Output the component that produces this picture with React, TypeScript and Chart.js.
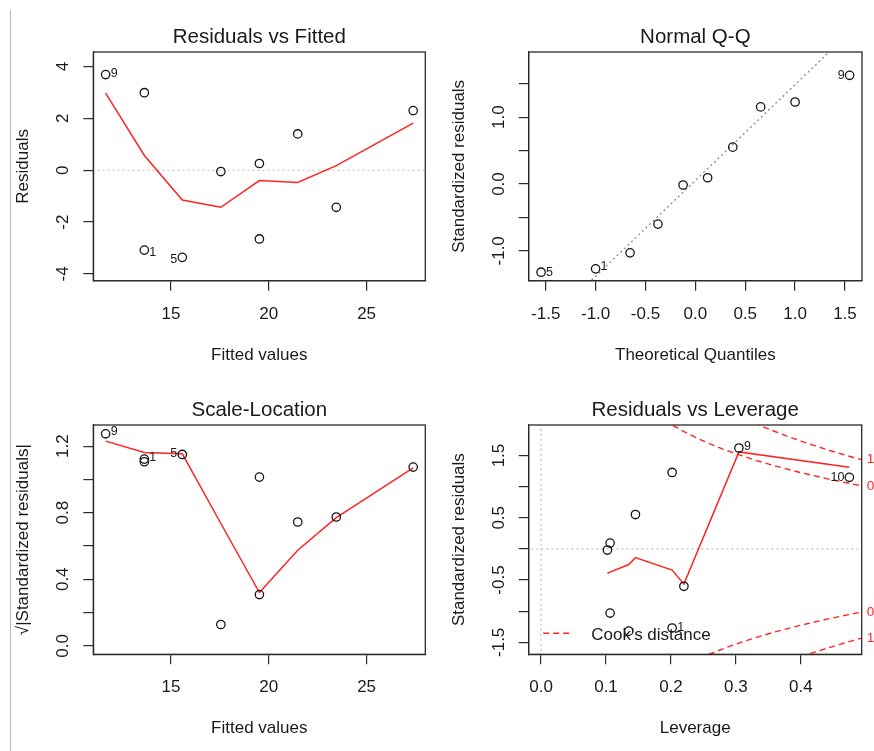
import React, { useEffect, useRef } from 'react';
import { Chart, registerables } from 'chart.js';

Chart.register(...registerables);

// ---------------- data ----------------
// observations (same order in every panel)
const fittedValues = [11.66, 13.64, 13.64, 15.58, 17.55, 19.52, 19.52, 21.48, 23.45, 27.38];
const residuals = [3.69, 2.99, -3.08, -3.36, -0.05, 0.26, -2.65, 1.4, -1.43, 2.3];
const sqrtAbsStdResiduals = [1.274, 1.106, 1.122, 1.15, 0.128, 0.308, 1.014, 0.744, 0.774, 1.074];
const leverage = [0.3046, 0.2018, 0.2018, 0.135, 0.1022, 0.1063, 0.1063, 0.1453, 0.2199, 0.4746];
const stdResiduals = [1.62, 1.228, -1.27, -1.32, -0.018, 0.094, -1.03, 0.552, -0.6, 1.15];

// Normal Q-Q
const theoreticalQuantiles = [-1.547, -1.0, -0.655, -0.375, -0.123, 0.123, 0.375, 0.655, 1.0, 1.547];
const sortedStdResiduals = [-1.32, -1.27, -1.03, -0.6, -0.015, 0.094, 0.552, 1.154, 1.228, 1.627];
const qqLineX = [-1.8, 1.8];
const qqLineY = [-2.528, 2.634];

// smoothers (red lines)
const smoothFitted = [11.66, 13.64, 15.58, 17.55, 19.52, 21.48, 23.45, 27.38];
const smoothResiduals = [2.97, 0.57, -1.15, -1.43, -0.4, -0.47, 0.18, 1.82];
const smoothScaleLocation = [1.23, 1.162, 1.154, 0.735, 0.32, 0.574, 0.77, 1.07];
const smoothLeverageX = [0.1022, 0.1063, 0.135, 0.1453, 0.2018, 0.2199, 0.3046, 0.4746];
const smoothLeverageY = [-0.39, -0.372, -0.25, -0.14, -0.34, -0.565, 1.558, 1.31];

// reference lines
const zeroLineX = [0, 40];
const zeroLineY = [0, 0];
const levZeroHX = [-1, 1];
const levZeroHY = [0, 0];
const levZeroVX = [0, 0];
const levZeroVY = [-3, 3];

// Cook's distance contours (0.5 and 1)
const cookHalfH = [0.19, 0.2, 0.22, 0.24, 0.26, 0.28, 0.3, 0.33, 0.36, 0.4, 0.44, 0.48, 0.5];
const cookHalfUpper = [2.065, 2.0, 1.883, 1.78, 1.687, 1.604, 1.528, 1.425, 1.333, 1.225, 1.128, 1.041, 1.0];
const cookHalfLower = [-2.065, -2.0, -1.883, -1.78, -1.687, -1.604, -1.528, -1.425, -1.333, -1.225, -1.128, -1.041, -1.0];
const cookOneH = [0.3, 0.33, 0.34, 0.36, 0.38, 0.4, 0.42, 0.44, 0.46, 0.48, 0.5];
const cookOneUpper = [2.16, 2.015, 1.97, 1.886, 1.806, 1.732, 1.662, 1.595, 1.532, 1.472, 1.414];
const cookOneLower = [-2.16, -2.015, -1.97, -1.886, -1.806, -1.732, -1.662, -1.595, -1.532, -1.472, -1.414];
const cookLabelValues = [1.433, 1.013, -1.013, -1.433];
const cookLabelTexts = ['1', '0.5', '0.5', '1'];

// ticks
const fittedTicks = [15, 20, 25];
const fittedTickLabels = ['15', '20', '25'];
const residTicks = [-4, -2, 0, 2, 4];
const residTickLabels = ['-4', '-2', '0', '2', '4'];
const qqXTicks = [-1.5, -1.0, -0.5, 0, 0.5, 1.0, 1.5];
const qqXTickLabels = ['-1.5', '-1.0', '-0.5', '0.0', '0.5', '1.0', '1.5'];
const qqYTicks = [-1.0, -0.5, 0, 0.5, 1.0, 1.5];
const qqYTickLabels = ['-1.0', '', '0.0', '', '1.0', ''];
const slYTicks = [0, 0.2, 0.4, 0.6, 0.8, 1.0, 1.2];
const slYTickLabels = ['0.0', '', '0.4', '', '0.8', '', '1.2'];
const levXTicks = [0, 0.1, 0.2, 0.3, 0.4];
const levXTickLabels = ['0.0', '0.1', '0.2', '0.3', '0.4'];
const levYTicks = [-1.5, -1.0, -0.5, 0, 0.5, 1.0, 1.5];
const levYTickLabels = ['-1.5', '', '-0.5', '', '0.5', '', '1.5'];

// point id labels: index into observations, text, side
const rvfLabelIdx = [0, 2, 3];
const rvfLabelText = ['9', '1', '5'];
const rvfLabelSide = ['right', 'right', 'left'];
const qqLabelIdx = [0, 1, 9];
const qqLabelText = ['5', '1', '9'];
const qqLabelSide = ['right', 'right', 'left'];
const slLabelIdx = [0, 2, 3];
const slLabelText = ['9', '1', '5'];
const slLabelSide = ['right', 'right', 'left'];
const levLabelIdx = [0, 9, 2];
const levLabelText = ['9', '10', '1'];
const levLabelSide = ['right', 'left', 'right'];

// ---------------- styling ----------------
const FONT = '"Liberation Sans", Arial, Helvetica, sans-serif';
const TEXT = '#1a1a1a';
const AXIS = '#2b2b2b';
const RED = '#ff2424';

const pts = (xs: number[], ys: number[]) => xs.map((x, i) => ({ x, y: ys[i] }));

const pointSet = (xs: number[], ys: number[]) => ({
  data: pts(xs, ys),
  showLine: false,
  pointRadius: 4.2,
  pointBorderWidth: 1.3,
  pointBackgroundColor: 'rgba(0,0,0,0)',
  pointBorderColor: '#151515',
  order: 0,
});

const lineSet = (xs: number[], ys: number[], color: string, width: number, dash: number[], order: number) => ({
  data: pts(xs, ys),
  showLine: true,
  pointRadius: 0,
  borderColor: color,
  borderWidth: width,
  borderDash: dash,
  fill: false,
  tension: 0,
  order,
});

type Label = { x: number; y: number; text: string; side: string; dy: number };

type Spec = {
  title: string;
  xTitle: string;
  yTitle: string;
  xMin: number; xMax: number; yMin: number; yMax: number;
  xTicks: number[]; xTickLabels: string[];
  yTicks: number[]; yTickLabels: string[];
  datasets: any[];
  labels: Label[];
  padding: { left: number; top: number; right: number; bottom: number };
  extra?: (chart: any, ctx: CanvasRenderingContext2D) => void;
};

const mkLabels = (idx: number[], text: string[], side: string[], xs: number[], ys: number[], dys: number[]): Label[] =>
  idx.map((k, i) => ({ x: xs[k], y: ys[k], text: text[i], side: side[i], dy: dys[i] }));

function makeOverlay(spec: Spec) {
  return {
    id: 'rOverlay',
    afterDraw(chart: any) {
      const ctx: CanvasRenderingContext2D = chart.ctx;
      const a = chart.chartArea;
      const xs = chart.scales.x;
      const ys = chart.scales.y;
      const cx = (a.left + a.right) / 2;
      ctx.save();
      // box
      ctx.strokeStyle = AXIS;
      ctx.lineWidth = 1.3;
      ctx.setLineDash([]);
      ctx.strokeRect(a.left, a.top, a.right - a.left, a.bottom - a.top);

      ctx.fillStyle = TEXT;
      ctx.textBaseline = 'alphabetic';
      ctx.textAlign = 'center';
      // x tick labels
      ctx.font = `17px ${FONT}`;
      spec.xTicks.forEach((v, i) => {
        ctx.fillText(spec.xTickLabels[i], xs.getPixelForValue(v), a.bottom + 38);
      });
      // y tick labels (rotated, like R)
      spec.yTicks.forEach((v, i) => {
        const t = spec.yTickLabels[i];
        if (!t) return;
        ctx.save();
        ctx.translate(a.left - 25, ys.getPixelForValue(v));
        ctx.rotate(-Math.PI / 2);
        ctx.fillText(t, 0, 0);
        ctx.restore();
      });
      // x title
      ctx.fillText(spec.xTitle, cx, a.bottom + 79);
      // y title
      ctx.save();
      ctx.translate(a.left - 65, (a.top + a.bottom) / 2);
      ctx.rotate(-Math.PI / 2);
      ctx.fillText(spec.yTitle, 0, 0);
      ctx.restore();
      // main title
      ctx.font = `20.5px ${FONT}`;
      ctx.fillText(spec.title, cx, a.top - 9.5);

      // id labels
      ctx.font = `12.5px ${FONT}`;
      ctx.textBaseline = 'middle';
      spec.labels.forEach((l) => {
        const px = xs.getPixelForValue(l.x);
        const py = ys.getPixelForValue(l.y) + l.dy;
        if (l.side === 'right') {
          ctx.textAlign = 'left';
          ctx.fillText(l.text, px + 5, py);
        } else {
          ctx.textAlign = 'right';
          ctx.fillText(l.text, px - 5, py);
        }
      });
      if (spec.extra) spec.extra(chart, ctx);
      ctx.restore();
    },
  };
}

function buildConfig(spec: Spec): any {
  const axisCommon = {
    type: 'linear',
    ticks: { display: false },
    grid: { display: true, drawOnChartArea: false, drawTicks: true, tickLength: 10, color: AXIS, lineWidth: 1.2 },
    border: { display: true, color: AXIS, width: 1.2 },
  };
  return {
    type: 'scatter',
    data: { datasets: spec.datasets },
    options: {
      animation: false,
      responsive: false,
      events: [],
      layout: { padding: spec.padding },
      plugins: { legend: { display: false }, tooltip: { enabled: false }, title: { display: false } },
      scales: {
        x: {
          ...axisCommon,
          min: spec.xMin,
          max: spec.xMax,
          afterBuildTicks: (s: any) => { s.ticks = spec.xTicks.map((v) => ({ value: v })); },
          afterFit: (s: any) => { s.height = 0; },
        },
        y: {
          ...axisCommon,
          min: spec.yMin,
          max: spec.yMax,
          afterBuildTicks: (s: any) => { s.ticks = spec.yTicks.map((v) => ({ value: v })); },
          afterFit: (s: any) => { s.width = 0; },
        },
      },
    },
    plugins: [makeOverlay(spec)],
  };
}

// ---------------- panels ----------------
const topPad = { top: 52, bottom: 95.3 };
const botPad = { top: 49, bottom: 96.7 };

const specRvF: Spec = {
  title: 'Residuals vs Fitted',
  xTitle: 'Fitted values',
  yTitle: 'Residuals',
  xMin: 11.03, xMax: 28.0, yMin: -4.26, yMax: 4.56,
  xTicks: fittedTicks, xTickLabels: fittedTickLabels,
  yTicks: residTicks, yTickLabels: residTickLabels,
  datasets: [
    pointSet(fittedValues, residuals),
    lineSet(smoothFitted, smoothResiduals, RED, 1.5, [], 1),
    lineSet(zeroLineX, zeroLineY, '#bdbdbd', 1.2, [2, 3], 2),
  ],
  labels: mkLabels(rvfLabelIdx, rvfLabelText, rvfLabelSide, fittedValues, residuals, [-1, 2, 2]),
  padding: { left: 93.3, right: 11.7, ...topPad },
};

const specQQ: Spec = {
  title: 'Normal Q-Q',
  xTitle: 'Theoretical Quantiles',
  yTitle: 'Standardized residuals',
  xMin: -1.671, xMax: 1.671, yMin: -1.447, yMax: 1.976,
  xTicks: qqXTicks, xTickLabels: qqXTickLabels,
  yTicks: qqYTicks, yTickLabels: qqYTickLabels,
  datasets: [
    pointSet(theoreticalQuantiles, sortedStdResiduals),
    lineSet(qqLineX, qqLineY, '#8a8a8a', 1.3, [2, 3], 1),
  ],
  labels: mkLabels(qqLabelIdx, qqLabelText, qqLabelSide, theoreticalQuantiles, sortedStdResiduals, [0, -2, 0]),
  padding: { left: 91.7, right: 12, ...topPad },
};

const specSL: Spec = {
  title: 'Scale-Location',
  xTitle: 'Fitted values',
  yTitle: '\u221A|Standardized residuals|',
  xMin: 11.03, xMax: 28.0, yMin: -0.051, yMax: 1.327,
  xTicks: fittedTicks, xTickLabels: fittedTickLabels,
  yTicks: slYTicks, yTickLabels: slYTickLabels,
  datasets: [
    pointSet(fittedValues, sqrtAbsStdResiduals),
    lineSet(smoothFitted, smoothScaleLocation, RED, 1.5, [], 1),
  ],
  labels: mkLabels(slLabelIdx, slLabelText, slLabelSide, fittedValues, sqrtAbsStdResiduals, [-2, -2, -1]),
  padding: { left: 93.3, right: 11.7, ...botPad },
};

const specLev: Spec = {
  title: 'Residuals vs Leverage',
  xTitle: 'Leverage',
  yTitle: 'Standardized residuals',
  xMin: -0.019, xMax: 0.4936, yMin: -1.692, yMax: 1.99,
  xTicks: levXTicks, xTickLabels: levXTickLabels,
  yTicks: levYTicks, yTickLabels: levYTickLabels,
  datasets: [
    pointSet(leverage, stdResiduals),
    lineSet(smoothLeverageX, smoothLeverageY, RED, 1.5, [], 1),
    lineSet(levZeroHX, levZeroHY, '#bdbdbd', 1.2, [2, 3], 2),
    lineSet(levZeroVX, levZeroVY, '#bdbdbd', 1.2, [2, 3], 2),
    lineSet(cookHalfH, cookHalfUpper, RED, 1.4, [6, 4], 3),
    lineSet(cookHalfH, cookHalfLower, RED, 1.4, [6, 4], 3),
    lineSet(cookOneH, cookOneUpper, RED, 1.4, [6, 4], 3),
    lineSet(cookOneH, cookOneLower, RED, 1.4, [6, 4], 3),
  ],
  labels: mkLabels(levLabelIdx, levLabelText, levLabelSide, leverage, stdResiduals, [-1, 0, 0]),
  padding: { left: 91.7, right: 12.3, ...botPad },
  extra: (chart, ctx) => {
    const a = chart.chartArea;
    const ys = chart.scales.y;
    // Cook's level labels on the right margin
    ctx.fillStyle = RED;
    ctx.font = `13.5px ${FONT}`;
    ctx.textAlign = 'left';
    ctx.textBaseline = 'middle';
    cookLabelValues.forEach((v, i) => {
      ctx.fillText(cookLabelTexts[i], a.right + 5, ys.getPixelForValue(v));
    });
    // legend
    ctx.strokeStyle = RED;
    ctx.lineWidth = 1.4;
    ctx.setLineDash([6, 4]);
    ctx.beginPath();
    ctx.moveTo(a.left + 14.5, a.bottom - 21);
    ctx.lineTo(a.left + 42, a.bottom - 21);
    ctx.stroke();
    ctx.setLineDash([]);
    ctx.fillStyle = TEXT;
    ctx.font = `17px ${FONT}`;
    ctx.textBaseline = 'alphabetic';
    ctx.fillText("Cook's distance", a.left + 62.5, a.bottom - 14.3);
  },
};

function Panel({ spec, left, top, width, height }: { spec: Spec; left: number; top: number; width: number; height: number }) {
  const ref = useRef<HTMLCanvasElement>(null);
  useEffect(() => {
    if (!ref.current) return;
    const chart = new Chart(ref.current, buildConfig(spec));
    return () => chart.destroy();
  }, [spec]);
  return (
    <canvas
      ref={ref}
      width={width}
      height={height}
      style={{ position: 'absolute', left, top, width, height, display: 'block' }}
    />
  );
}

export default function App() {
  return (
    <div
      style={{
        position: 'absolute',
        left: 0,
        top: 0,
        width: 874,
        height: 751,
        overflow: 'hidden',
        background: '#ffffff',
      }}
    >
      <div style={{ position: 'absolute', left: 10, top: 10, width: 1, height: 741, background: '#b4b4b4' }} />
      <Panel spec={specRvF} left={0} top={0} width={437} height={376} />
      <Panel spec={specQQ} left={437} top={0} width={437} height={376} />
      <Panel spec={specSL} left={0} top={376} width={437} height={375} />
      <Panel spec={specLev} left={437} top={376} width={437} height={375} />
    </div>
  );
}
